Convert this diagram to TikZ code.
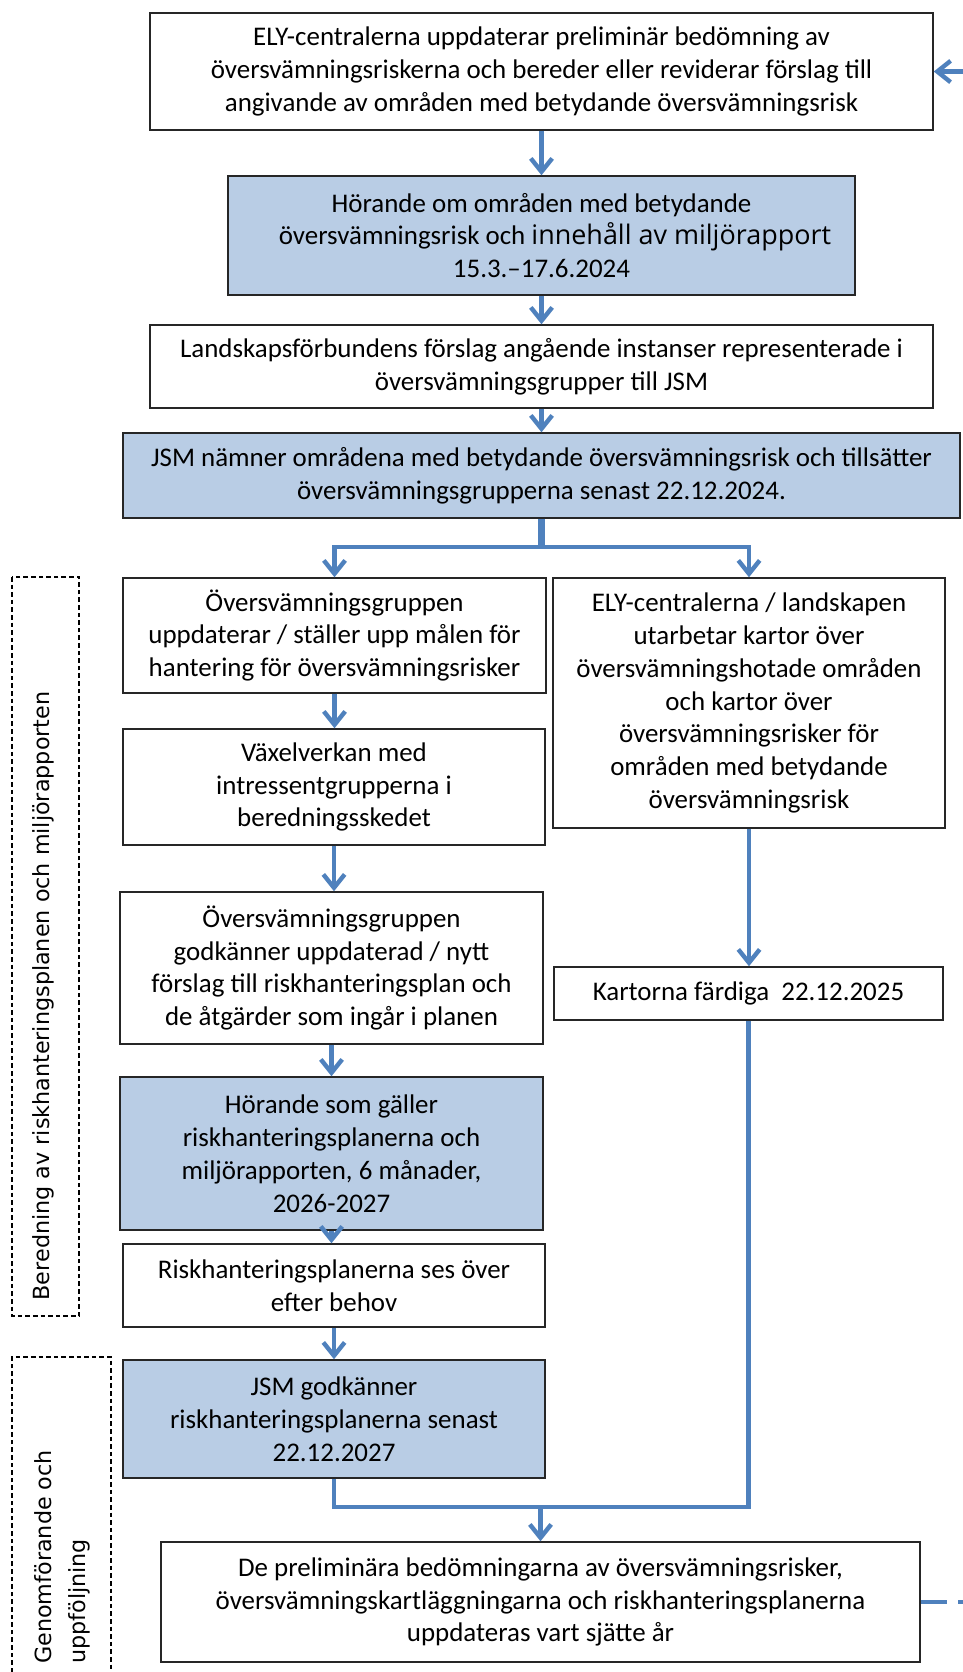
\documentclass[tikz,border=0pt]{standalone}
\usepackage{fontspec}
\setmainfont{Carlito}
\newfontfamily\vfont{DejaVu Sans}
\newfontfamily\osfont{Open Sans}
\usetikzlibrary{arrows.meta}
\definecolor{arrowblue}{RGB}{79,129,189}
\definecolor{boxblue}{RGB}{185,205,229}
\tikzset{
  box/.style={draw=black!85, line width=1.1pt, align=center, inner sep=0pt,
    font=\fontsize{20.2}{24.7}\selectfont},
  bluebox/.style={box, fill=boxblue},
  sz/.style 2 args={minimum width=#1*0.75pt, minimum height=#2*0.75pt},
  conn/.style={draw=arrowblue, line width=3.3pt, -{Straight Barb[length=10pt,width=16pt]}},
  plainline/.style={draw=arrowblue, line width=3.3pt},
  trunkline/.style={draw=arrowblue, line width=5.5pt},
  fbdash/.style={draw=arrowblue, line width=3.3pt, dash pattern=on 20pt off 8pt},
  groupbox/.style={draw=black, line width=0.9pt, dash pattern=on 3.5pt off 2.2pt},
  vlabel/.style={rotate=90, inner sep=0pt, font=\vfont\fontsize{16.7}{19}\selectfont}
}
\begin{document}
\begin{tikzpicture}[x=0.75pt, y=-0.75pt]
\useasboundingbox (0,0) rectangle (963,1672);

% main column
\node[box, sz={783}{117}] (b1) at (541.5,71.5) {ELY-centralerna uppdaterar preliminär bedömning av\\ översvämningsriskerna och bereder eller reviderar förslag till\\ angivande av områden med betydande översvämningsrisk};
\node[bluebox, sz={627}{119}] (b2) at (541.5,235.5) {Hörande om områden med betydande\\ \hspace*{1em}översvämningsrisk och {\osfont innehåll av miljörapport}\\ 15.3.–17.6.2024};
\node[box, sz={783}{83}] (b3) at (541.5,366.5) {Landskapsförbundens förslag angående instanser representerade i\\ översvämningsgrupper till JSM};
\node[bluebox, sz={837}{85}] (b4) at (541.5,475.5) {JSM nämner områdena med betydande översvämningsrisk och tillsätter\\ översvämningsgrupperna senast 22.12.2024.};

% left column
\node[box, sz={423}{115}] (bA) at (334.5,635.5) {Översvämningsgruppen\\ uppdaterar / ställer upp målen för\\ hantering för översvämningsrisker};
\node[box, sz={422}{116}] (bC) at (334,787) {Växelverkan med\\ intressentgrupperna i\\ beredningsskedet};
\node[box, sz={423}{152}] (bD) at (331.5,968) {Översvämningsgruppen\\ godkänner uppdaterad / nytt\\ förslag till riskhanteringsplan och\\ de åtgärder som ingår i planen};
\node[bluebox, sz={423}{153}] (bF) at (331.5,1153.5) {Hörande som gäller\\ riskhanteringsplanerna och\\ miljörapporten, 6 månader,\\ 2026-2027};
\node[box, sz={422}{83}] (bG) at (334,1285.5) {Riskhanteringsplanerna ses över\\ efter behov};
\node[bluebox, sz={422}{118}] (bH) at (334,1419) {JSM godkänner\\ riskhanteringsplanerna senast\\ 22.12.2027};

% right column
\node[box, sz={392}{250}] (bB) at (749,703) {ELY-centralerna / landskapen\\ utarbetar kartor över\\ översvämningshotade områden\\ och kartor över\\ översvämningsrisker för\\ områden med betydande\\ översvämningsrisk};
\node[box, sz={389}{53}] (bE) at (748.5,993.5) {Kartorna färdiga\ \ 22.12.2025};

% bottom
\node[box, sz={759}{120}] (bI) at (540.5,1602) {De preliminära bedömningarna av översvämningsrisker,\\ översvämningskartläggningarna och riskhanteringsplanerna\\ uppdateras vart sjätte år};

% group boxes and labels
\draw[groupbox] (12,577) rectangle (79,1316);
\draw[groupbox] (12,1680) -- (12,1357) -- (111,1357) -- (111,1680);
\node[vlabel] (l1) at (43,996) {Beredning av riskhanteringsplanen och miljörapporten};
\node[vlabel, anchor=west] (l2a) at (43,1664) {Genomförande och};
\node[vlabel, anchor=west] (l2b) at (79,1664) {uppföljning};

% connectors
\draw[conn] (b1) -- (b2);
\draw[conn] (b2) -- (b3);
\draw[conn] (b3) -- (b4);
\coordinate (br) at (541.5,547);
\draw[trunkline] (b4.south) -- (br);
\draw[conn] (br) -| (bA.north);
\draw[conn] (br) -| (bB.north);
\draw[conn] (bA.south) -- (bA.south |- bC.north);
\draw[conn] (bC.south) -- (bC.south |- bD.north);
\draw[conn] (bD.south) -- (bD.south |- bF.north);
\draw[conn] (bF.south) -- (bF.south |- bG.north);
\draw[conn] (bG.south) -- (bG.south |- bH.north);
\draw[conn] (bB.south) -- (bB.south |- bE.north);
\coordinate (mg) at (540.5,1507);
\draw[plainline] (bH.south) |- (mg);
\draw[plainline] (bE.south) |- (mg);
\draw[conn] (mg) -- (bI.north);
\coordinate (fb1) at (963,71.5);
\draw[conn] (fb1) -- (b1.east);
\coordinate (fb2) at (963,1602);
\draw[fbdash] (bI.east) -- (fb2);
\end{tikzpicture}
\end{document}
